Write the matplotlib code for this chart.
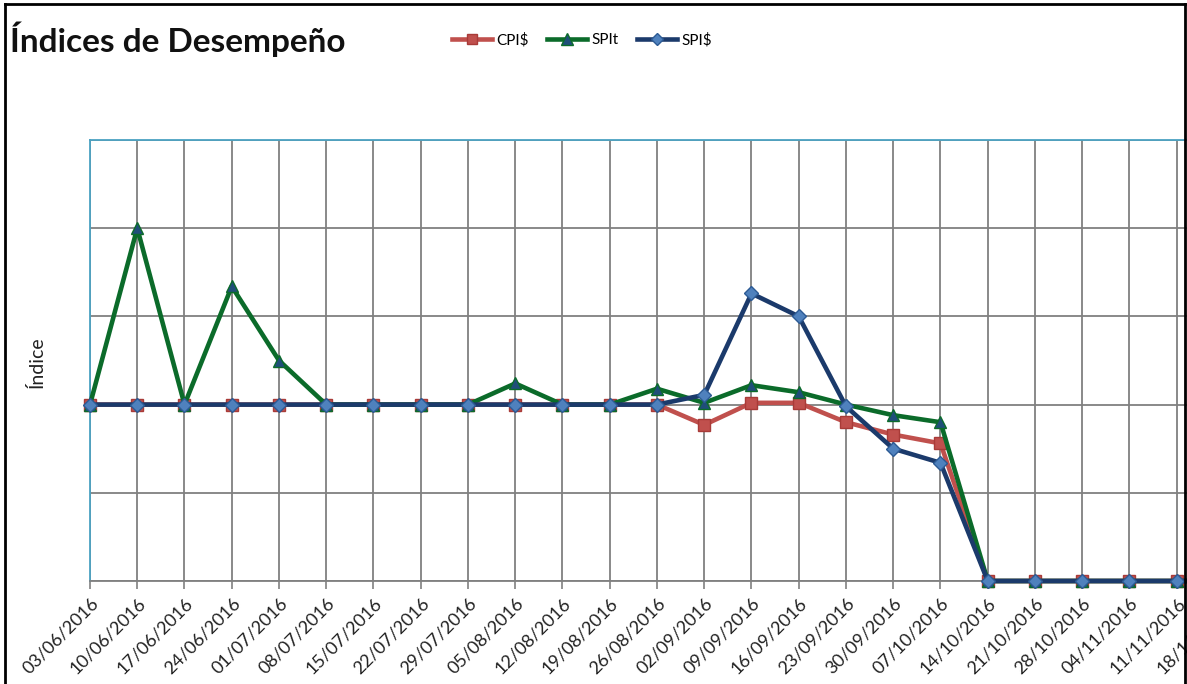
import matplotlib
matplotlib.use("Agg")
import matplotlib.pyplot as plt
from matplotlib.lines import Line2D

dates = ["03/06/2016", "10/06/2016", "17/06/2016", "24/06/2016", "01/07/2016",
         "08/07/2016", "15/07/2016", "22/07/2016", "29/07/2016", "05/08/2016",
         "12/08/2016", "19/08/2016", "26/08/2016", "02/09/2016", "09/09/2016",
         "16/09/2016", "23/09/2016", "30/09/2016", "07/10/2016", "14/10/2016",
         "21/10/2016", "28/10/2016", "04/11/2016", "11/11/2016", "18/11/2016"]

cpi = [1.0, 1.0, 1.0, 1.0, 1.0, 1.0, 1.0, 1.0, 1.0, 1.0, 1.0, 1.0, 1.0,
       0.885, 1.01, 1.01, 0.90, 0.83, 0.78, 0.0, 0.0, 0.0, 0.0, 0.0, 0.0]
spit = [1.0, 2.0, 1.0, 1.67, 1.25, 1.0, 1.0, 1.0, 1.0, 1.12, 1.0, 1.0, 1.09,
        1.01, 1.11, 1.07, 1.0, 0.94, 0.90, 0.0, 0.0, 0.0, 0.0, 0.0, 0.0]
spi = [1.0, 1.0, 1.0, 1.0, 1.0, 1.0, 1.0, 1.0, 1.0, 1.0, 1.0, 1.0, 1.0,
       1.055, 1.63, 1.50, 0.99, 0.75, 0.67, 0.0, 0.0, 0.0, 0.0, 0.0, 0.0]
y_ticks = [0.0, 0.5, 1.0, 1.5, 2.0, 2.5]

W, H = 1187, 684
fig = plt.figure(figsize=(W / 100, H / 100), dpi=100)
fig.patch.set_facecolor("white")

x0, x1, ytop, ybot = 90, 1224, 140, 581
ax = fig.add_axes([x0 / W, 1 - ybot / H, (x1 - x0) / W, (ybot - ytop) / H])
ax.set_facecolor("white")

xs = list(range(len(dates)))
ax.plot(xs, cpi, color="#C0504D", lw=3.3, marker="s", ms=8,
        mfc="#C0504D", mec="#A83B38", mew=1, label="CPI$", zorder=3, clip_on=False)
ax.plot(xs, spit, color="#0B6B2A", lw=3.3, marker="^", ms=9,
        mfc="#1F4E79", mec="#0B6B2A", mew=1, label="SPIt", zorder=4, clip_on=False)
ax.plot(xs, spi, color="#1B3A6B", lw=3.3, marker="D", ms=7,
        mfc="#4F81BD", mec="#2C5A94", mew=1, label="SPI$", zorder=5, clip_on=False)

ax.set_xlim(0, len(dates) - 1)
ax.set_ylim(0, 2.5)
ax.set_yticks(y_ticks)
ax.set_yticklabels([])
ax.tick_params(axis="y", length=0)
ax.set_xticks(xs)
ax.set_xticklabels(dates, rotation=45, ha="right", rotation_mode="anchor",
                   fontsize=13, color="#222222", family="Lato")
ax.tick_params(axis="x", length=6, width=1.2, color="#808080", direction="out", pad=4)
ax.grid(True, color="#808080", lw=1.3, zorder=0)
ax.set_axisbelow(True)
for s in ["left", "top"]:
    ax.spines[s].set_color("#4BA3C3")
    ax.spines[s].set_linewidth(1.3)
ax.spines["bottom"].set_color("#808080")
ax.spines["bottom"].set_linewidth(1.3)
ax.spines["right"].set_visible(False)

fig.text(37 / W, 1 - 362 / H, "Índice", rotation=90, ha="center", va="center",
         fontsize=14, family="Lato", color="#222222")
fig.text(10 / W, 1 - 39 / H, "Índices de Desempeño", ha="left", va="center",
         fontsize=24, fontweight="bold", family="Lato", color="#111111")

fig.legend(loc="center", bbox_to_anchor=(582 / W, 1 - 40 / H), ncol=3, frameon=False,
           prop={"family": "Lato", "size": 11}, handlelength=2.6, columnspacing=1.2,
           handletextpad=0.3, markerscale=0.9)

# chart border
for coords in [([5 / W, 5 / W], [0, 1 - 4 / H]), ([5 / W, 1185 / W], [1 - 4 / H, 1 - 4 / H]),
               ([1185 / W, 1185 / W], [0, 1 - 4 / H])]:
    fig.add_artist(Line2D(coords[0], coords[1], color="black", lw=2, transform=fig.transFigure))

fig.savefig("out.png", dpi=100)
